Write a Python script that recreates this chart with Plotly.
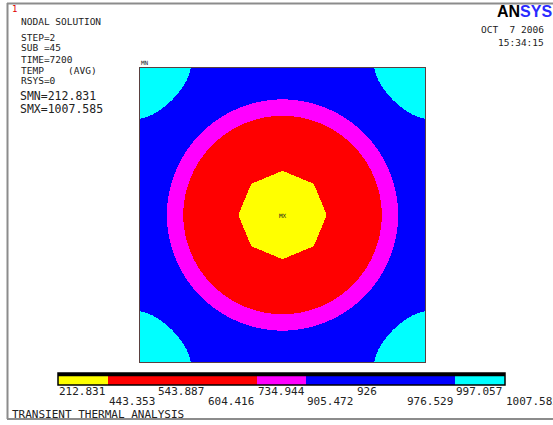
import numpy as np
import plotly.graph_objects as go

W, H = 553, 425

# ---- data ----
legend_labels = ["212.831", "443.353", "543.887", "604.416", "734.944",
                 "905.472", "926", "976.529", "997.057", "1007.585"]
band_colors = ["#FFFF00", "#FF0000", "#FF0000", "#FF0000", "#FF00FF",
               "#0000FF", "#0000FF", "#0000FF", "#00FFFF"]
# contour zones of the plate (radius as fraction of plate half-width)
zone_band = [0, 2, 4, 6]            # yellow core, red ring, magenta ring, blue field
zone_radius = [0.315, 0.70, 0.815]
corner_band = 8                     # cyan corners
corner_radius = 0.351
header_lines = ["NODAL SOLUTION", "STEP=2", "SUB =45", "TIME=7200", "TEMP", "RSYS=0"]
header_y = [22, 38, 48, 60, 71, 81]
smn_text = "SMN=212.831"
smx_text = "SMX=1007.585"
date_text = "OCT  7 2006"
time_text = "15:34:15"
title_text = "TRANSIENT THERMAL ANALYSIS"


def px(x):
    return x / W


def py(y):
    return 1 - y / H


# ---- build the nodal field (band index) on the plate ----
nx, ny = 286, 295
hx, hy = 142.5, 147.0
xs = np.linspace(-1, 1, nx)
ys = np.linspace(-1, 1, ny)
U, V = np.meshgrid(xs, ys)
Vs = V * hy / hx
R = np.sqrt(U ** 2 + Vs ** 2)
TH = np.mod(np.arctan2(Vs, U), np.pi / 4)
R_oct = zone_radius[0] * np.cos(np.pi / 8) / np.cos(TH - np.pi / 8)

Z = np.full(U.shape, zone_band[3], dtype=float)
Z[R < zone_radius[2]] = zone_band[2]
Z[R < zone_radius[1]] = zone_band[1]
Z[R < R_oct] = zone_band[0]
cdx = (1 - np.abs(U))
cdy = (1 - np.abs(V)) * hy / hx
pn = 1.5
Z[(cdx ** pn + cdy ** pn) ** (1 / pn) < corner_radius] = corner_band

nb = len(band_colors)
cs = []
for i, c in enumerate(band_colors):
    cs.append([i / nb, c])
    cs.append([(i + 1) / nb, c])

fig = go.Figure()
fig.add_trace(go.Heatmap(z=Z, x=xs, y=ys, colorscale=cs, zmin=-0.5, zmax=nb - 0.5,
                         showscale=False, hoverinfo="skip", xaxis="x", yaxis="y"))
fig.add_trace(go.Heatmap(z=[list(range(nb))], x=[i + 0.5 for i in range(nb)], y=[0],
                         colorscale=cs, zmin=-0.5, zmax=nb - 0.5, showscale=False,
                         hoverinfo="skip", xaxis="x2", yaxis="y2"))

dxh = (xs[1] - xs[0]) / 2
dyh = (ys[1] - ys[0]) / 2
axis_common = dict(showgrid=False, zeroline=False, showticklabels=False, ticks="",
                   showline=True, mirror=True, linecolor="#5a4040", linewidth=1)
fig.update_layout(
    width=W, height=H, margin=dict(l=0, r=0, t=0, b=0),
    paper_bgcolor="white", plot_bgcolor="white", showlegend=False,
    xaxis=dict(domain=[px(140), px(425)], range=[-1 - dxh, 1 + dxh], **axis_common),
    yaxis=dict(domain=[py(362), py(68)], range=[-1 - dyh, 1 + dyh], **axis_common),
    xaxis2=dict(domain=[px(58), px(505)], range=[0, nb], anchor="y2",
                showgrid=False, zeroline=False, showticklabels=False, ticks=""),
    yaxis2=dict(domain=[py(385), py(373)], range=[-0.5, 0.5], anchor="x2",
                showgrid=False, zeroline=False, showticklabels=False, ticks=""),
)

shapes = [
    dict(type="rect", xref="x2 domain", yref="y2 domain", x0=0, x1=1, y0=0.72, y1=1,
         fillcolor="black", line=dict(width=0)),
    dict(type="rect", xref="x2 domain", yref="y2 domain", x0=0, x1=1, y0=0, y1=1,
         line=dict(color="black", width=1.5)),
    # window frame
    dict(type="line", xref="paper", yref="paper", x0=px(7), x1=1, y0=py(3.5), y1=py(3.5),
         line=dict(color="#8c8c8c", width=2)),
    dict(type="line", xref="paper", yref="paper", x0=px(7.5), x1=px(7.5), y0=py(3), y1=py(419),
         line=dict(color="#8c8c8c", width=2)),
    dict(type="line", xref="paper", yref="paper", x0=px(7), x1=1, y0=py(419), y1=py(419),
         line=dict(color="#8c8c8c", width=2)),
]
fig.update_layout(shapes=shapes)

mono = "DejaVu Sans Mono"
ann = []


def text(x, y, s, size, color="#222222", xanchor="left", family=mono, xref="paper", yref="paper"):
    ann.append(dict(x=x, y=y, xref=xref, yref=yref, text=s, showarrow=False,
                    xanchor=xanchor, yanchor="middle",
                    font=dict(family=family, size=size, color=color)))


text(px(10), py(9), "1", 9, color="#e00000")
for s, yy in zip(header_lines, header_y):
    text(px(19), py(yy), s, 9.5)
text(px(66), py(header_y[4]), "(AVG)", 9.5)
text(px(18), py(96), smn_text, 11.5)
text(px(18), py(109), smx_text, 11.5)
text(px(546), py(30), date_text, 9.5, xanchor="right")
text(px(546), py(42), time_text, 9.5, xanchor="right")
ann.append(dict(x=px(495), y=py(12), xref="paper", yref="paper", showarrow=False,
                xanchor="left", yanchor="middle",
                text="<b>AN<span style='color:#2a2aff'>SYS</span></b>",
                font=dict(family="Liberation Sans", size=16, color="black")))
text(px(139), py(62), "MN", 6)
text(px(283), py(215), "MX", 6, xanchor="center")
text(px(10), py(414), title_text, 11)

for i, lab in enumerate(legend_labels):
    yy = 391 if i % 2 == 0 else 401
    ann.append(dict(x=i, y=py(yy), xref="x2", yref="paper", text=lab, showarrow=False,
                    xanchor="left", yanchor="middle", xshift=-1,
                    font=dict(family=mono, size=11, color="#222222")))

fig.update_layout(annotations=ann)
fig.write_html("out.html", config={"displayModeBar": False, "staticPlot": True},
               post_script="document.body.style.margin='0';document.body.style.overflow='hidden';")
